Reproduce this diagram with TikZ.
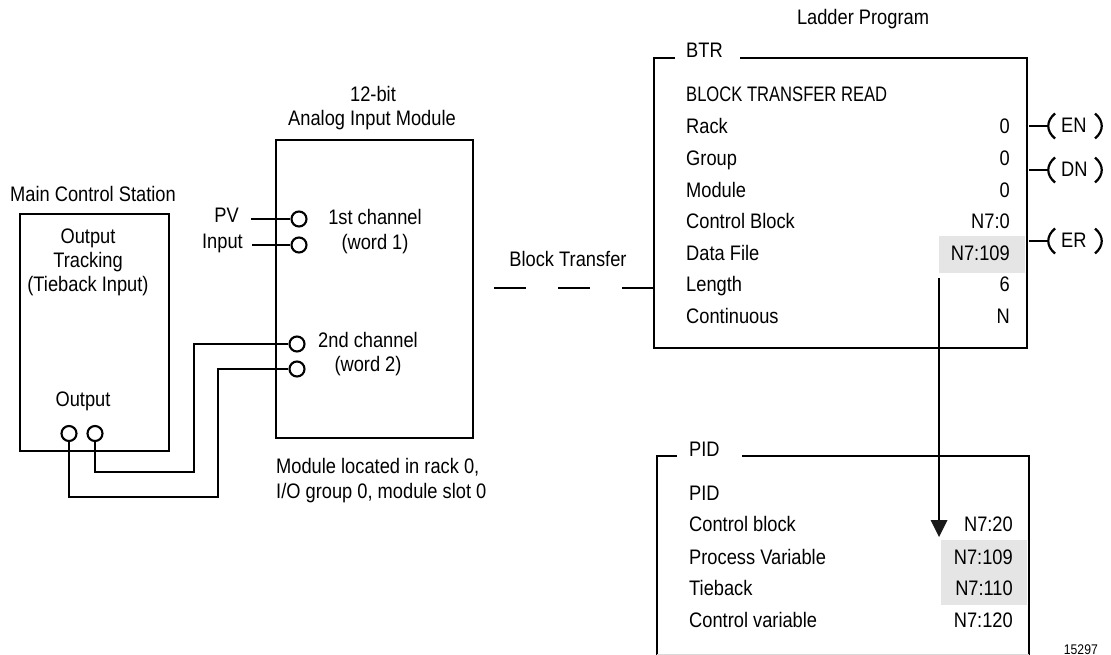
\documentclass[tikz,border=0pt]{standalone}
\usepackage{fontspec}
\setmainfont[FakeStretch=0.87]{Liberation Sans}
\newfontfamily\capsfont[FakeStretch=0.79]{Liberation Sans}
\begin{document}
\begin{tikzpicture}[x=1pt,y=-1pt,
  txt/.style={inner sep=0pt,font=\fontsize{21pt}{21pt}\selectfont,text height=15pt,text depth=0pt},
  lt/.style={txt,anchor=west},
  rt/.style={txt,anchor=east},
  ln/.style={line width=2.1pt,line join=miter},
  port/.style={circle,draw,line width=2.1pt,fill=white,minimum size=15pt,inner sep=0pt}]
\useasboundingbox[fill=white] (0,0) rectangle (1111,655);
% grey fields
\fill[gray!20] (939,236) rectangle (1025,273);
\fill[gray!20] (941,540) rectangle (1027,605);
% boxes
\draw[ln] (20,214) rectangle (169,451);
\draw[ln] (276,140) rectangle (473,438);
\draw[ln] (675,58) -- (654,58) -- (654,348) -- (1027,348) -- (1027,58) -- (740,58);
\draw[ln] (677,456) -- (657,456) -- (657,655);
\draw[ln] (742,456) -- (1029,456) -- (1029,655);
\draw[gray!30,line width=.6pt] (657,654.6) -- (1029,654.6);
% titles
\node[txt] (lp) at (863,17) {Ladder Program};
\node[txt] (t12) at (373,94) {12-bit};
\node[txt] (taim) at (372,118) {Analog Input Module};
\node[txt] (tmcs) at (93,194) {Main Control Station};
\node[txt] (o1) at (88,236) {Output};
\node[txt] (o2) at (88,260) {Tracking};
\node[txt] (o3) at (88,284) {(Tieback Input)};
\node[txt] (oo) at (83,399) {Output};
\node[rt] (pv) at (239,215) {PV};
\node[rt] (inp) at (243,241) {Input};
\node[txt] (c1) at (375,217) {1st channel};
\node[txt] (w1) at (375,242) {(word 1)};
\node[txt] (c2) at (368,340) {2nd channel};
\node[txt] (w2) at (368,364) {(word 2)};
\node[lt] (m1) at (276,466) {Module located in rack 0,};
\node[lt] (m2) at (276,491) {I/O group 0, module slot 0};
\node[txt] (bt) at (568,259) {Block Transfer};
% ports
\node[port] (p1) at (299,219) {};
\node[port] (p2) at (299,245) {};
\node[port] (p3) at (297,344) {};
\node[port] (p4) at (297,369) {};
\node[port] (q1) at (69,433.5) {};
\node[port] (q2) at (95,433.5) {};
\coordinate (a1) at (251,219);
\coordinate (a2) at (252,245);
\draw[ln] (a1) -- (p1);
\draw[ln] (a2) -- (p2);
\draw[ln] (q2) -- (95,472) -- (194,472) -- (194,344) -- (p3);
\draw[ln] (q1) -- (69,497) -- (218,497) -- (218,369) -- (p4);
% dashed link
\coordinate (d0) at (494,288);
\coordinate (d1) at (654,288);
\draw[ln] (d0) -- (526,288) (558,288) -- (590,288) (622,288) -- (d1);
% BTR
\node[lt] (btr) at (686,50) {BTR};
\node[lt] (r0) at (686,94) {\capsfont BLOCK TRANSFER READ};
\node[lt] (r1) at (686,126) {Rack};
\node[lt] (r2) at (686,158) {Group};
\node[lt] (r3) at (686,190) {Module};
\node[lt] (r4) at (686,221) {Control Block};
\node[lt] (r5) at (686,253) {Data File};
\node[lt] (r6) at (686,284) {Length};
\node[lt] (r7) at (686,316) {Continuous};
\node[rt] (v1) at (1010,126) {0};
\node[rt] (v2) at (1010,158) {0};
\node[rt] (v3) at (1010,190) {0};
\node[rt] (v4) at (1010,221) {N7:0};
\node[rt] (v5) at (1010,253) {N7:109};
\node[rt] (v6) at (1010,284) {6};
\node[rt] (v7) at (1010,316) {N};
% coils
\foreach \n/\y/\t in {en/126/EN,dn/170/DN,er/241/ER}{
  \node[lt] (\n) at (1061,\y-1) {\t};
  \coordinate (\n a) at (1029,\y);
  \coordinate (\n b) at (1049,\y);
  \draw[ln] (\n a) -- (\n b);
  \draw[line width=2.2pt] (1055,\y-12.5) .. controls (1046,\y-5) and (1046,\y+5) .. (1055,\y+12.5);
  \draw[line width=2.2pt] (1095,\y-12.5) .. controls (1104,\y-5) and (1104,\y+5) .. (1095,\y+12.5);
}
% PID
\node[lt] (pid) at (689,449) {PID};
\node[lt] (s0) at (689,493) {PID};
\node[lt] (s1) at (689,524) {Control block};
\node[lt] (s2) at (689,557) {Process Variable};
\node[lt] (s3) at (689,588) {Tieback};
\node[lt] (s4) at (689,620) {Control variable};
\node[rt] (u1) at (1013,524) {N7:20};
\node[rt] (u2) at (1013,557) {N7:109};
\node[rt] (u3) at (1013,588) {N7:110};
\node[rt] (u4) at (1013,620) {N7:120};
\node[rt,font=\fontsize{14pt}{14pt}\selectfont,text height=10pt] (num) at (1098,649) {15297};
% arrow
\coordinate (f0) at (939,278);
\coordinate (f1) at (939,537);
\coordinate (f2) at (930.5,520);
\coordinate (f3) at (947.5,520);
\draw[ln] (f0) -- (939,522);
\fill[black!90] (f1) -- (f2) -- (f3) -- cycle;
\end{tikzpicture}
\end{document}
